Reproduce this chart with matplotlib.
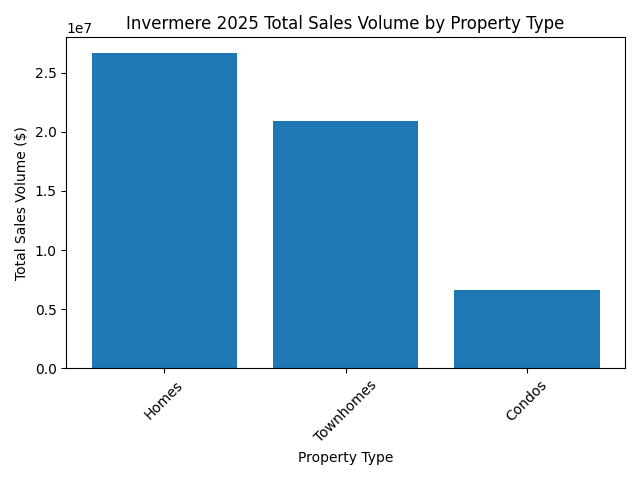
import matplotlib
matplotlib.use("Agg")
import matplotlib.pyplot as plt

property_types = ["Homes", "Townhomes", "Condos"]
sales_volume = [26650000, 20940000, 6630000]


def main():
    plt.figure(figsize=(6.4, 4.8))
    plt.bar(property_types, sales_volume, color="#1f77b4")
    plt.xlabel("Property Type")
    plt.ylabel("Total Sales Volume ($)")
    plt.title("Invermere 2025 Total Sales Volume by Property Type")
    plt.xticks(rotation=45)
    plt.tight_layout()
    plt.savefig("out.png", dpi=100)


if __name__ == "__main__":
    main()
